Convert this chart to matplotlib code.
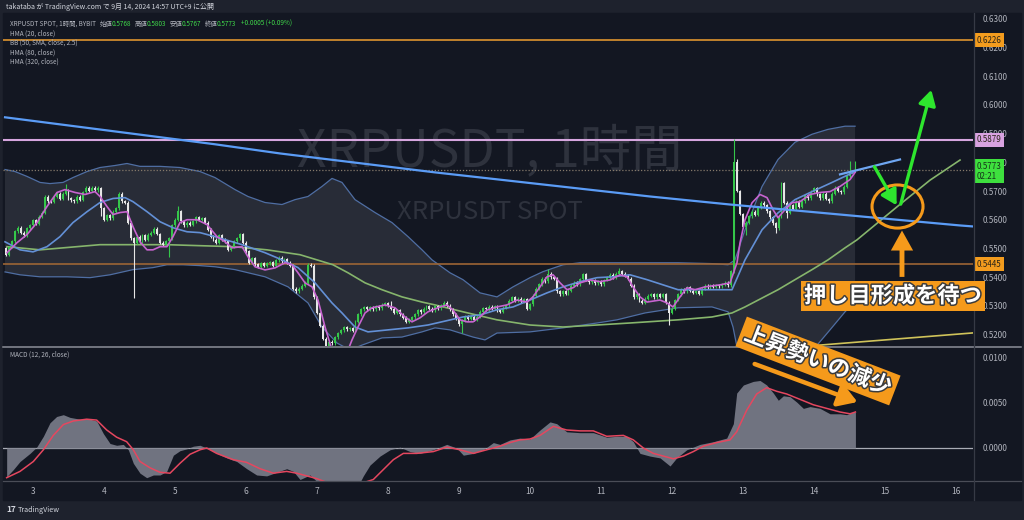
import numpy as np
import matplotlib
matplotlib.use("Agg")
import matplotlib.pyplot as plt
import matplotlib.transforms as mtransforms
import matplotlib.patheffects as pe
from matplotlib.patches import Ellipse, FancyArrowPatch, Rectangle
from matplotlib.lines import Line2D

plt.rcParams['font.family'] = ['Noto Sans CJK JP', 'DejaVu Sans']

# ---------------- data ----------------
# hourly bars XRPUSDT, Sep 2 15:00 .. Sep 14 14:00 (x axis = day of month)
first_open = 0.5500
closes = [
    0.5478, 0.5505, 0.5525, 0.5560, 0.5572, 0.5555, 0.5545, 0.5570, 0.5580,
    # Sep 3
    0.5598, 0.5585, 0.5610, 0.5625, 0.5680, 0.5665, 0.5663, 0.5680, 0.5690, 0.5672, 0.5690, 0.5702,
    0.5675, 0.5668, 0.5665, 0.5680, 0.5670, 0.5695, 0.5712, 0.5700, 0.5712, 0.5703, 0.5710, 0.5640,
    # Sep 4
    0.5600, 0.5615, 0.5605, 0.5628, 0.5640, 0.5690, 0.5665, 0.5660, 0.5590, 0.5535, 0.5520, 0.5540,
    0.5525, 0.5545, 0.5530, 0.5548, 0.5555, 0.5568, 0.5550, 0.5520, 0.5512, 0.5525, 0.5535, 0.5580,
    # Sep 5
    0.5600, 0.5630, 0.5595, 0.5580, 0.5590, 0.5582, 0.5595, 0.5608, 0.5600, 0.5605, 0.5590, 0.5565,
    0.5540, 0.5530, 0.5520, 0.5545, 0.5530, 0.5525, 0.5495, 0.5505, 0.5525, 0.5535, 0.5550, 0.5520,
    # Sep 6
    0.5490, 0.5450, 0.5465, 0.5445, 0.5435, 0.5448, 0.5440, 0.5448, 0.5452, 0.5440, 0.5458, 0.5468,
    0.5455, 0.5462, 0.5450, 0.5440, 0.5360, 0.5350, 0.5360, 0.5370, 0.5380, 0.5443, 0.5440, 0.5330,
    # Sep 7
    0.5275, 0.5230, 0.5185, 0.5160, 0.5175, 0.5170, 0.5190, 0.5205, 0.5215, 0.5225, 0.5218, 0.5222,
    0.5212, 0.5245, 0.5270, 0.5288, 0.5295, 0.5288, 0.5295, 0.5288, 0.5298, 0.5292, 0.5303, 0.5308,
    # Sep 8
    0.5300, 0.5290, 0.5275, 0.5285, 0.5270, 0.5258, 0.5245, 0.5252, 0.5260, 0.5270, 0.5285, 0.5278,
    0.5290, 0.5298, 0.5290, 0.5285, 0.5298, 0.5292, 0.5302, 0.5310, 0.5300, 0.5288, 0.5270, 0.5255,
    # Sep 9
    0.5235, 0.5248, 0.5262, 0.5255, 0.5262, 0.5252, 0.5262, 0.5280, 0.5292, 0.5288, 0.5296, 0.5290,
    0.5298, 0.5285, 0.5280, 0.5293, 0.5302, 0.5318, 0.5330, 0.5318, 0.5325, 0.5315, 0.5322, 0.5290,
    # Sep 10
    0.5305, 0.5335, 0.5360, 0.5375, 0.5395, 0.5385, 0.5412, 0.5400, 0.5395, 0.5350, 0.5340, 0.5350,
    0.5342, 0.5352, 0.5370, 0.5380, 0.5375, 0.5392, 0.5410, 0.5390, 0.5382, 0.5388, 0.5378, 0.5385,
    # Sep 11
    0.5375, 0.5390, 0.5398, 0.5408, 0.5400, 0.5412, 0.5420, 0.5412, 0.5405, 0.5395, 0.5370, 0.5330,
    0.5340, 0.5318, 0.5310, 0.5325, 0.5335, 0.5340, 0.5330, 0.5340, 0.5332, 0.5340, 0.5310, 0.5275,
    # Sep 12
    0.5290, 0.5320, 0.5340, 0.5358, 0.5350, 0.5365, 0.5352, 0.5345, 0.5350, 0.5342, 0.5360, 0.5370,
    0.5365, 0.5372, 0.5366, 0.5372, 0.5368, 0.5373, 0.5380, 0.5372, 0.5420, 0.5800, 0.5700, 0.5620,
    # Sep 13
    0.5575, 0.5590, 0.5612, 0.5628, 0.5618, 0.5642, 0.5660, 0.5650, 0.5630, 0.5608, 0.5588, 0.5570,
    0.5610, 0.5728, 0.5660, 0.5625, 0.5650, 0.5638, 0.5662, 0.5645, 0.5665, 0.5685, 0.5675, 0.5698,
    # Sep 14
    0.5710, 0.5688, 0.5675, 0.5690, 0.5672, 0.5665, 0.5690, 0.5712, 0.5700, 0.5695, 0.5715, 0.5752,
    0.5770, 0.5768, 0.5773,
]
# long wicks (bar index -> price)
wick_highs = {20: 0.5723, 31: 0.5716, 58: 0.5648, 130: 0.5315, 183: 0.5429, 207: 0.5432,
              246: 0.5880, 247: 0.5812, 285: 0.5803, 287: 0.5803}
wick_lows = {32: 0.5612, 43: 0.5328, 55: 0.5470, 108: 0.5150, 154: 0.5205, 224: 0.5233,
             250: 0.5548, 260: 0.5552, 264: 0.5605, 287: 0.5767}

# BB (50, 2.5) bands
bb_upper = [(2.606, 0.5775), (2.746, 0.5768), (2.915, 0.5751), (3.099, 0.5730), (3.239, 0.5726),
            (3.423, 0.5730), (3.563, 0.5747), (3.761, 0.5768), (3.944, 0.5782), (4.155, 0.5789),
            (4.324, 0.5796), (4.507, 0.5786), (4.789, 0.5786), (5.070, 0.5782), (5.352, 0.5768),
            (5.563, 0.5747), (5.845, 0.5705), (6.028, 0.5681), (6.268, 0.5660), (6.507, 0.5653),
            (6.690, 0.5670), (6.873, 0.5681), (7.070, 0.5716), (7.211, 0.5744), (7.352, 0.5730),
            (7.535, 0.5670), (7.817, 0.5625), (8.056, 0.5590), (8.282, 0.5541), (8.479, 0.5495),
            (8.620, 0.5460), (8.873, 0.5415), (9.056, 0.5391), (9.296, 0.5345), (9.535, 0.5331),
            (9.761, 0.5366), (10.000, 0.5398), (10.183, 0.5419), (10.465, 0.5443), (10.704, 0.5450),
            (11.169, 0.5450), (11.620, 0.5450), (12.085, 0.5450), (12.563, 0.5447), (12.789, 0.5443),
            (12.887, 0.5460), (13.028, 0.5565), (13.268, 0.5716), (13.493, 0.5810), (13.732, 0.5870),
            (13.972, 0.5898), (14.197, 0.5915), (14.437, 0.5926), (14.578, 0.5926)]
bb_lower = [(2.606, 0.5418), (2.817, 0.5408), (3.099, 0.5401), (3.479, 0.5401), (3.803, 0.5398),
            (4.085, 0.5408), (4.408, 0.5426), (4.690, 0.5433), (4.887, 0.5443), (5.113, 0.5443),
            (5.352, 0.5440), (5.563, 0.5436), (5.845, 0.5426), (6.268, 0.5401), (6.592, 0.5366),
            (6.873, 0.5310), (7.070, 0.5226), (7.282, 0.5170), (7.465, 0.5146), (7.634, 0.5163),
            (7.915, 0.5188), (8.197, 0.5191), (8.479, 0.5209), (8.662, 0.5223), (8.873, 0.5216),
            (9.197, 0.5191), (9.366, 0.5181), (9.535, 0.5205), (10.000, 0.5209), (10.465, 0.5223),
            (10.944, 0.5240), (11.225, 0.5251), (11.620, 0.5275), (12.085, 0.5293), (12.563, 0.5296),
            (12.789, 0.5279), (12.859, 0.5226), (12.915, 0.5156), (13.028, 0.5040), (13.380, 0.4970),
            (13.732, 0.5020), (13.986, 0.5146), (14.225, 0.5216), (14.437, 0.5279), (14.578, 0.5314)]

hma20 = [(2.634, 0.5485), (2.775, 0.5520), (2.915, 0.5548), (3.056, 0.5590), (3.197, 0.5646),
         (3.338, 0.5695), (3.451, 0.5705), (3.592, 0.5695), (3.732, 0.5688), (3.873, 0.5698),
         (3.944, 0.5681), (4.042, 0.5646), (4.127, 0.5618), (4.225, 0.5625), (4.324, 0.5628),
         (4.408, 0.5576), (4.507, 0.5523), (4.606, 0.5495), (4.690, 0.5495), (4.789, 0.5506),
         (4.887, 0.5506), (4.972, 0.5541), (5.070, 0.5590), (5.169, 0.5600), (5.310, 0.5600),
         (5.451, 0.5583), (5.592, 0.5541), (5.704, 0.5523), (5.803, 0.5502), (5.944, 0.5506),
         (6.028, 0.5471), (6.127, 0.5436), (6.268, 0.5425), (6.408, 0.5432), (6.549, 0.5450),
         (6.648, 0.5443), (6.732, 0.5415), (6.831, 0.5380), (6.930, 0.5366), (7.014, 0.5320),
         (7.113, 0.5226), (7.211, 0.5146), (7.324, 0.5111), (7.408, 0.5128), (7.493, 0.5181),
         (7.577, 0.5226), (7.676, 0.5275), (7.775, 0.5293), (7.958, 0.5303), (8.099, 0.5293),
         (8.239, 0.5261), (8.338, 0.5244), (8.451, 0.5258), (8.563, 0.5279), (8.732, 0.5296),
         (8.831, 0.5303), (8.915, 0.5285), (9.014, 0.5251), (9.113, 0.5244), (9.197, 0.5244),
         (9.296, 0.5261), (9.394, 0.5285), (9.535, 0.5296), (9.676, 0.5303), (9.817, 0.5320),
         (9.958, 0.5313), (10.042, 0.5331), (10.141, 0.5366), (10.239, 0.5401), (10.324, 0.5408),
         (10.423, 0.5380), (10.521, 0.5356), (10.606, 0.5363), (10.704, 0.5380), (10.845, 0.5390),
         (10.986, 0.5384), (11.127, 0.5390), (11.268, 0.5408), (11.366, 0.5401), (11.451, 0.5366),
         (11.549, 0.5331), (11.648, 0.5313), (11.831, 0.5320), (11.930, 0.5310), (12.014, 0.5296),
         (12.113, 0.5331), (12.211, 0.5363), (12.324, 0.5356), (12.465, 0.5366), (12.676, 0.5373),
         (12.817, 0.5380), (12.915, 0.5450), (12.958, 0.5520), (13.028, 0.5600), (13.127, 0.5659),
         (13.239, 0.5688), (13.338, 0.5677), (13.423, 0.5635), (13.493, 0.5607), (13.592, 0.5635),
         (13.690, 0.5659), (13.803, 0.5663), (13.944, 0.5688), (14.085, 0.5695), (14.225, 0.5698),
         (14.366, 0.5716), (14.507, 0.5740), (14.578, 0.5765)]

hma80 = [(2.606, 0.5523), (2.817, 0.5495), (3.000, 0.5488), (3.197, 0.5506), (3.380, 0.5541),
         (3.563, 0.5590), (3.761, 0.5628), (3.944, 0.5660), (4.127, 0.5674), (4.296, 0.5677),
         (4.408, 0.5663), (4.606, 0.5628), (4.789, 0.5593), (4.972, 0.5572), (5.169, 0.5558),
         (5.352, 0.5555), (5.563, 0.5541), (5.944, 0.5513), (6.268, 0.5485), (6.507, 0.5460),
         (6.732, 0.5433), (6.972, 0.5380), (7.211, 0.5310), (7.352, 0.5275), (7.535, 0.5226),
         (7.718, 0.5209), (8.000, 0.5216), (8.282, 0.5223), (8.563, 0.5233), (9.056, 0.5261),
         (9.296, 0.5268), (9.535, 0.5286), (9.761, 0.5296), (10.000, 0.5320), (10.239, 0.5345),
         (10.465, 0.5366), (10.704, 0.5384), (10.944, 0.5398), (11.169, 0.5401), (11.408, 0.5408),
         (11.648, 0.5391), (12.085, 0.5356), (12.563, 0.5356), (12.845, 0.5356), (13.028, 0.5460),
         (13.268, 0.5565), (13.493, 0.5624), (13.732, 0.5670), (13.972, 0.5698), (14.254, 0.5730),
         (14.578, 0.5768)]

hma320 = [(2.634, 0.5506), (3.099, 0.5495), (3.944, 0.5513), (4.887, 0.5513), (5.817, 0.5506),
          (6.296, 0.5495), (6.761, 0.5478), (7.225, 0.5443), (7.437, 0.5415), (7.676, 0.5380),
          (7.915, 0.5356), (8.197, 0.5331), (8.479, 0.5313), (8.662, 0.5303), (9.056, 0.5279),
          (9.535, 0.5251), (10.000, 0.5233), (10.465, 0.5226), (10.944, 0.5233), (11.408, 0.5240),
          (12.085, 0.5251), (12.563, 0.5261), (12.845, 0.5275), (13.028, 0.5296), (13.268, 0.5327),
          (13.493, 0.5356), (13.732, 0.5391), (13.972, 0.5426), (14.197, 0.5460), (14.437, 0.5502),
          (14.606, 0.5530), (15.169, 0.5645), (15.634, 0.5738), (16.056, 0.5808)]

# drawings
trend_down = [(2.606, 0.5957), (5.563, 0.5863), (6.479, 0.5831), (8.662, 0.5765),
              (11.690, 0.5681), (12.817, 0.5653), (16.056, 0.5580), (16.268, 0.5576)]
trend_up = [(14.366, 0.5758), (15.211, 0.5810)]
yellow_line = [(14.085, 0.5163), (16.268, 0.5206)]
level_lines = [0.6226, 0.5879, 0.5445]
last_price = 0.5773

# MACD (12, 26): macd line (area) and signal
macd = [(2.629, -0.0032), (2.723, -0.0024), (2.817, -0.0015), (2.958, -0.0006), (3.052, 0.0001),
        (3.146, 0.0013), (3.239, 0.0028), (3.333, 0.0035), (3.427, 0.0037), (3.521, 0.0034),
        (3.662, 0.0032), (3.803, 0.0032), (3.897, 0.0030), (3.991, 0.0016), (4.085, 0.0005),
        (4.178, 0.0003), (4.272, 0.0004), (4.343, -0.0002), (4.413, -0.0017), (4.507, -0.0028),
        (4.601, -0.0033), (4.695, -0.0030), (4.789, -0.0030), (4.883, -0.0026), (4.977, -0.0008),
        (5.070, -0.0003), (5.164, -0.0001), (5.258, 0.0002), (5.352, 0.0003), (5.446, 0.0000),
        (5.587, -0.0006), (5.728, -0.0011), (5.869, -0.0015), (6.010, -0.0023), (6.150, -0.0030),
        (6.291, -0.0031), (6.432, -0.0027), (6.573, -0.0023), (6.667, -0.0026), (6.761, -0.0035),
        (6.901, -0.0030), (6.995, -0.0037), (7.140, -0.0045), (7.280, -0.0053), (7.420, -0.0055),
        (7.560, -0.0045), (7.652, -0.0031), (7.746, -0.0019), (7.887, -0.0009), (8.028, -0.0002),
        (8.169, 0.0001), (8.310, -0.0004), (8.451, -0.0006), (8.638, -0.0002), (8.827, 0.0004),
        (8.967, 0.0000), (9.061, -0.0008), (9.202, -0.0006), (9.342, -0.0002), (9.483, 0.0006),
        (9.577, 0.0004), (9.718, 0.0009), (9.859, 0.0011), (10.000, 0.0010), (10.141, 0.0020),
        (10.282, 0.0029), (10.376, 0.0027), (10.517, 0.0018), (10.704, 0.0017), (10.892, 0.0017),
        (11.080, 0.0012), (11.221, 0.0013), (11.362, 0.0013), (11.455, 0.0007), (11.549, -0.0006),
        (11.690, -0.0009), (11.831, -0.0011), (11.925, -0.0017), (11.972, -0.0020), (12.066, -0.0011),
        (12.207, -0.0002), (12.394, 0.0004), (12.582, 0.0007), (12.770, 0.0011), (12.864, 0.0027),
        (12.911, 0.0061), (13.005, 0.0070), (13.145, 0.0074), (13.239, 0.0075), (13.333, 0.0070),
        (13.427, 0.0061), (13.497, 0.0053), (13.568, 0.0058), (13.662, 0.0057), (13.756, 0.0051),
        (13.850, 0.0044), (13.944, 0.0046), (14.085, 0.0044), (14.225, 0.0038), (14.366, 0.0038),
        (14.460, 0.0037), (14.554, 0.0040), (14.583, 0.0040)]
signal = [(2.629, -0.0033), (2.817, -0.0026), (3.005, -0.0015), (3.146, -0.0002), (3.286, 0.0014),
          (3.427, 0.0026), (3.568, 0.0030), (3.756, 0.0032), (3.897, 0.0031), (4.038, 0.0020),
          (4.178, 0.0012), (4.319, 0.0007), (4.413, -0.0002), (4.507, -0.0015), (4.648, -0.0022),
          (4.789, -0.0027), (4.930, -0.0028), (5.070, -0.0017), (5.211, -0.0007), (5.352, -0.0002),
          (5.446, 0.0000), (5.587, -0.0006), (5.822, -0.0013), (6.010, -0.0016), (6.197, -0.0023),
          (6.385, -0.0028), (6.573, -0.0026), (6.714, -0.0028), (6.855, -0.0031), (6.995, -0.0034),
          (7.200, -0.0040), (7.400, -0.0045), (7.600, -0.0040), (7.793, -0.0035), (7.934, -0.0024),
          (8.075, -0.0013), (8.216, -0.0006), (8.404, -0.0006), (8.638, -0.0004), (8.827, 0.0001),
          (9.014, -0.0002), (9.202, -0.0006), (9.390, -0.0002), (9.577, 0.0002), (9.718, 0.0006),
          (9.859, 0.0009), (10.000, 0.0010), (10.141, 0.0014), (10.329, 0.0024), (10.517, 0.0020),
          (10.704, 0.0019), (10.892, 0.0019), (11.080, 0.0013), (11.314, 0.0014), (11.455, 0.0009),
          (11.596, 0.0000), (11.737, -0.0006), (11.878, -0.0009), (12.019, -0.0012), (12.160, -0.0009),
          (12.300, -0.0004), (12.441, 0.0002), (12.629, 0.0006), (12.817, 0.0009), (12.911, 0.0018),
          (13.052, 0.0042), (13.192, 0.0060), (13.333, 0.0067), (13.474, 0.0063), (13.615, 0.0060),
          (13.803, 0.0054), (13.991, 0.0048), (14.178, 0.0044), (14.366, 0.0040), (14.507, 0.0038),
          (14.583, 0.0040)]

price_ticks = [0.52, 0.53, 0.54, 0.55, 0.56, 0.57, 0.58, 0.59, 0.60, 0.61, 0.62, 0.63]
macd_ticks = [0.0, 0.005, 0.01]
day_ticks = list(range(3, 17))

# ---------------- style ----------------
BG = '#131722'
OUTER = '#1e222d'
TXT = '#b2b5be'
UPC = '#35c74a'
DNC = '#e6e6e6'
ORANGE = '#f59a1b'
W, H = 1024.0, 520.0


def fx(px):
    return px / W


def fy(py):
    return 1 - py / H


def xy(pairs):
    a = np.array(pairs)
    return a[:, 0], a[:, 1]


fig = plt.figure(figsize=(10.24, 5.2), dpi=100, facecolor=OUTER)
fig.add_artist(Rectangle((fx(3), fy(500)), fx(1021) - fx(3), fy(13) - fy(500),
                         transform=fig.transFigure, color=BG, zorder=-5))

ax = fig.add_axes([fx(3), fy(346), fx(973) - fx(3), fy(13) - fy(346)])
mx = fig.add_axes([fx(3), fy(481), fx(973) - fx(3), fy(347) - fy(481)])
for a in (ax, mx):
    a.set_facecolor(BG)
    for s in a.spines.values():
        s.set_visible(False)
    a.set_xlim(2.5775, 16.239)
    a.yaxis.tick_right()
ax.set_ylim(0.51598, 0.63206)
mx.set_ylim(-0.003667, 0.01122)

ax.set_xticks([])
ax.set_yticks(price_ticks)
ax.set_yticklabels(['%.4f' % v for v in price_ticks])
ax.tick_params(axis='y', length=0, pad=7, labelsize=5.8, colors=TXT)
mx.set_yticks(macd_ticks)
mx.set_yticklabels(['%.4f' % v for v in macd_ticks])
mx.tick_params(axis='y', length=0, pad=7, labelsize=5.8, colors=TXT)
mx.set_xticks(day_ticks)
mx.set_xticklabels([str(d) for d in day_ticks])
mx.tick_params(axis='x', length=0, pad=4, labelsize=6, colors=TXT)

# watermark
ax.text(0.502, 0.58, 'XRPUSDT, 1時間', transform=ax.transAxes, ha='center', va='center',
        fontsize=37, color='#2e323d', zorder=0.5)
ax.text(0.502, 0.402, 'XRPUSDT SPOT', transform=ax.transAxes, ha='center', va='center',
        fontsize=18.5, color='#2e323d', zorder=0.5)

# Bollinger band
ut, uv = xy(bb_upper)
lt, lv = xy(bb_lower)
ax.fill(np.r_[ut, lt[::-1]], np.r_[uv, lv[::-1]], color='#9598a1', alpha=0.17, lw=0, zorder=1)
ax.plot(ut, uv, color='#4f6ea3', lw=0.9, zorder=2)
ax.plot(lt, lv, color='#4f6ea3', lw=0.9, zorder=2)

# horizontal levels and drawings
ax.axhline(level_lines[0], color='#f0a030', lw=1.1, zorder=2.5)
ax.axhline(level_lines[1], color='#d6a6df', lw=1.5, zorder=2.5)
ax.axhline(level_lines[2], color='#9c6535', lw=1.2, zorder=2.5)
ax.axhline(last_price, color='#85796a', lw=0.9, ls=(0, (1, 1.5)), zorder=2.5)

gt, gv = xy(hma320)
ax.plot(gt, gv, color='#86b56c', lw=1.2, zorder=3)
yt, yv = xy(yellow_line)
ax.plot(yt, yv, color='#cfc35a', lw=1.2, zorder=3)

# candles
n = len(closes)
t = 2.625 + np.arange(n) / 24.0
c = np.array(closes)
o = np.r_[first_open, c[:-1]]
hi = np.maximum(o, c) + 0.0005
lo = np.minimum(o, c) - 0.0005
for k, v in wick_highs.items():
    hi[k] = v
for k, v in wick_lows.items():
    lo[k] = v
col = np.where(c >= o, UPC, DNC)
ax.vlines(t, lo, hi, colors=col, lw=0.8, zorder=4)
ax.bar(t, np.maximum(np.abs(c - o), 0.00025), bottom=np.minimum(o, c), width=0.027,
       color=col, lw=0, zorder=5)

ht, hv = xy(hma80)
ax.plot(ht, hv, color='#6390d6', lw=1.2, zorder=6)
pt, pv = xy(hma20)
ax.plot(pt, pv, color='#c764cf', lw=1.2, zorder=6)

tt, tv = xy(trend_down)
ax.plot(tt, tv, color='#5b9cf6', lw=1.6, zorder=7)
tt, tv = xy(trend_up)
ax.plot(tt, tv, color='#6ea6f2', lw=1.6, zorder=7)

# circle + arrows
ax.add_patch(Ellipse((15.176, 0.5646), 0.718, 0.01503, fill=False, ec=ORANGE, lw=2.2, zorder=8))
for a_, b_ in [((14.831, 0.5793), (15.183, 0.5642)), ((15.211, 0.5645), (15.662, 0.6062))]:
    ax.add_patch(FancyArrowPatch(a_, b_, arrowstyle='-|>,head_length=0.7,head_width=0.4',
                                 mutation_scale=13, color='#2ee62e', lw=2.4, zorder=9))
ax.add_patch(FancyArrowPatch((15.239, 0.5391), (15.239, 0.5572),
                             arrowstyle='simple,head_length=0.9,head_width=1.0,tail_width=0.22',
                             mutation_scale=16, color=ORANGE, lw=0, zorder=9))

# price labels on the right scale
btr = mtransforms.blended_transform_factory(ax.transAxes, ax.transData)
for val, txt, fc in [(0.6226, '0.6226', '#f39c1e'), (0.5879, '0.5879', '#d8a2e0'),
                     (0.5445, '0.5445', '#f39c1e')]:
    ax.text(1.004, val, txt, transform=btr, ha='left', va='center', fontsize=5.8, color='#2a2418',
            bbox=dict(boxstyle='square,pad=0.3', fc=fc, ec='none'), clip_on=False, zorder=20)
ax.text(1.004, last_price - 0.0004, '0.5773\n02:21', transform=btr, ha='left', va='center',
        fontsize=5.8, color='#16351a', linespacing=1.15,
        bbox=dict(boxstyle='square,pad=0.3', fc='#3ee03e', ec='none'), clip_on=False, zorder=20)

# MACD pane
mt, mv = xy(macd)
mx.fill_between(mt, mv, 0, color='#707380', lw=0, zorder=2)
st, sv = xy(signal)
mx.plot(st, sv, color='#e5475f', lw=1.1, zorder=3)
mx.axhline(0, color='#a9acb5', lw=0.9, zorder=1)
mx.add_patch(FancyArrowPatch((13.127, 0.00944), (14.648, 0.0050),
                             arrowstyle='-|>,head_length=0.8,head_width=0.5',
                             mutation_scale=14, color=ORANGE, lw=3.2, zorder=9))

# pane separators
fig.add_artist(Line2D([fx(3), fx(1021)], [fy(346.5), fy(346.5)], color='#8c8f98', lw=1.1))
fig.add_artist(Line2D([fx(3), fx(1021)], [fy(481), fy(481)], color='#4a4d57', lw=0.9))
fig.add_artist(Line2D([fx(973.5), fx(973.5)], [fy(13), fy(500)], color='#363a45', lw=0.9))

# header + legends
fig.text(fx(6), fy(7), 'takataba が TradingView.com で 9月 14, 2024 14:57 UTC+9 に公開',
         fontsize=5, color='#d1d4dc', va='center')
GV = '#3fd64a'
for px, s, cl in [(10, 'XRPUSDT SPOT, 1時間, BYBIT', TXT), (100, '始値', TXT), (112, '0.5768', GV),
                  (135, '高値', TXT), (147, '0.5803', GV), (170, '安値', TXT), (182, '0.5767', GV),
                  (205, '終値', TXT), (217, '0.5773', GV), (241, '+0.0005 (+0.09%)', GV)]:
    fig.text(fx(px), fy(24), s, fontsize=4.6, color=cl, va='center')
for k, s in enumerate(['HMA (20, close)', 'BB (50, SMA, close, 2.5)', 'HMA (80, close)',
                       'HMA (320, close)']):
    fig.text(fx(10), fy(33.5 + 9.5 * k), s, fontsize=4.6, color=TXT, va='center')
fig.text(fx(10), fy(355), 'MACD (12, 26, close)', fontsize=4.6, color=TXT, va='center')
fig.text(fx(6), fy(510), '17', fontsize=6, fontweight='bold', color='#d1d4dc', va='center')
fig.text(fx(18), fy(510), 'TradingView', fontsize=5.2, color='#d1d4dc', va='center')

# callouts
stroke = [pe.withStroke(linewidth=2.2, foreground='#3c3c3c')]
fig.text(fx(893), fy(296), '押し目形成を待つ', ha='center', va='center', fontsize=16,
         fontweight='bold', color='white', path_effects=stroke, zorder=30,
         bbox=dict(boxstyle='square,pad=0.15', fc=ORANGE, ec='none'))
fig.text(fx(818), fy(361), '上昇勢いの減少', ha='center', va='center', fontsize=16,
         fontweight='bold', color='white', rotation=-21, rotation_mode='anchor',
         path_effects=stroke, zorder=30,
         bbox=dict(boxstyle='square,pad=0.2', fc=ORANGE, ec='none'))

fig.savefig('out.png', dpi=100, facecolor=OUTER)
